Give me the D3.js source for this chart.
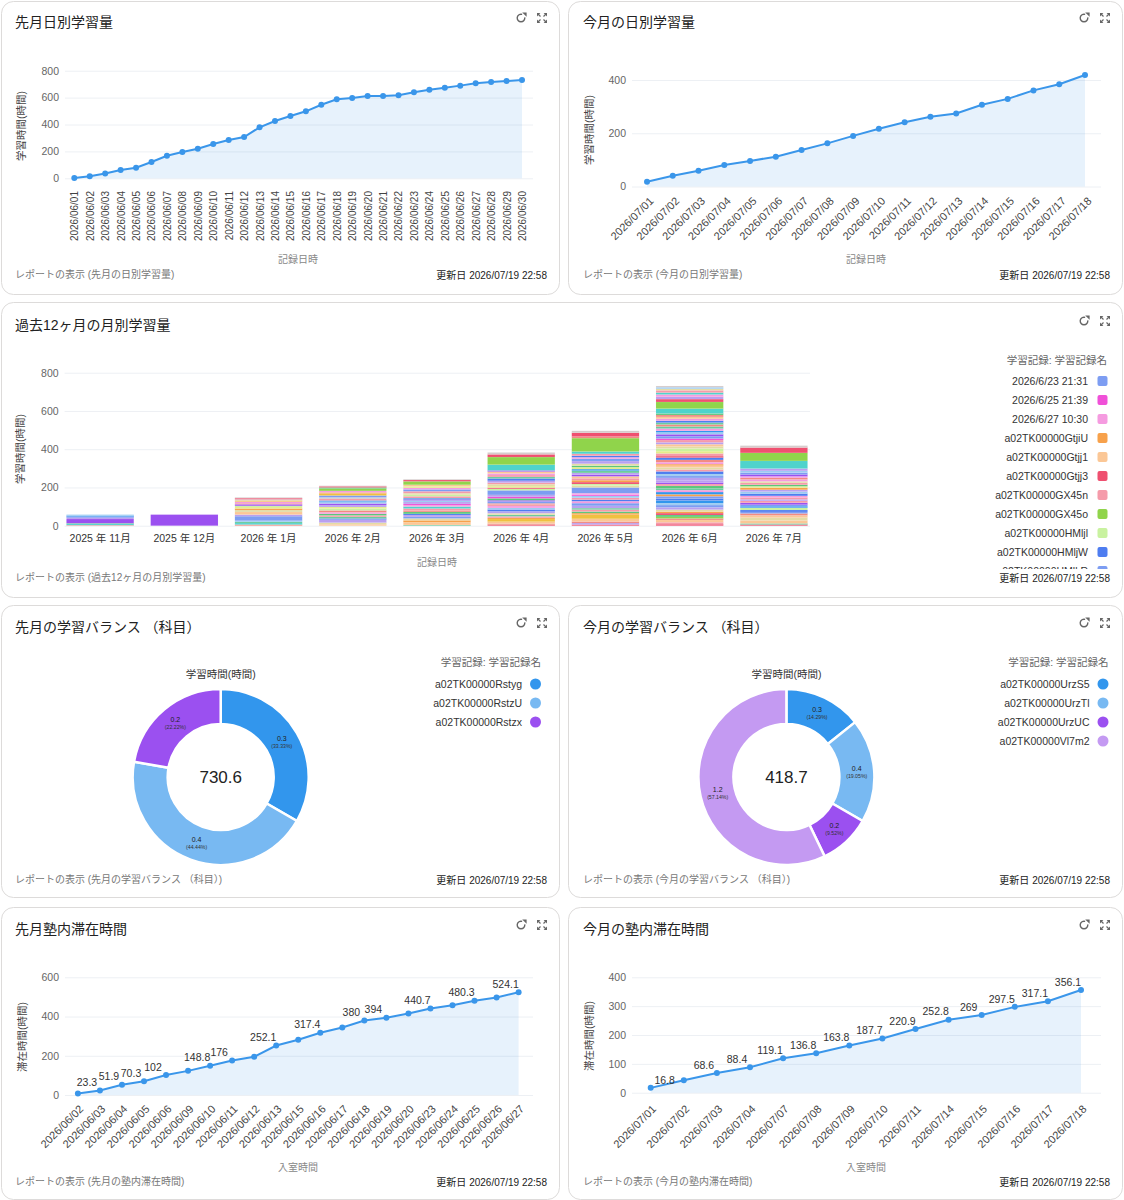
<!DOCTYPE html>
<html>
<head>
<meta charset="utf-8">
<script src="https://cdn.jsdelivr.net/npm/d3@7"></script>
<style>
  body { margin: 0; background: #fff; }
  svg text { font-family: "Liberation Sans", Arial, "Noto Sans CJK JP", sans-serif; }
</style>
</head>
<body>
<svg id="dash" width="1124" height="1200"></svg>
<script>
var FONT = '"Liberation Sans", Arial, "Noto Sans CJK JP", sans-serif';
var UPDATED = '更新日 2026/07/19 22:58';

// --- 先月日別学習量 ---
var lastMonthDates = ['2026/06/01','2026/06/02','2026/06/03','2026/06/04','2026/06/05','2026/06/06','2026/06/07','2026/06/08','2026/06/09','2026/06/10',
  '2026/06/11','2026/06/12','2026/06/13','2026/06/14','2026/06/15','2026/06/16','2026/06/17','2026/06/18','2026/06/19','2026/06/20',
  '2026/06/21','2026/06/22','2026/06/23','2026/06/24','2026/06/25','2026/06/26','2026/06/27','2026/06/28','2026/06/29','2026/06/30'];
var lastMonthStudy = [1.5, 15, 35, 62, 79, 121, 168, 196, 220, 255, 285, 307, 379, 426, 463, 498, 547, 587, 597, 612,
  612, 617, 639, 659, 674, 689, 706, 716, 723, 730.6];

// --- 今月の日別学習量 ---
var thisMonthDates = ['2026/07/01','2026/07/02','2026/07/03','2026/07/04','2026/07/05','2026/07/06','2026/07/07','2026/07/08','2026/07/09',
  '2026/07/10','2026/07/11','2026/07/12','2026/07/13','2026/07/14','2026/07/15','2026/07/16','2026/07/17','2026/07/18'];
var thisMonthStudy = [17.5, 40, 59, 81, 96, 112, 137, 162, 190, 217, 241, 262, 274, 307, 329, 361, 384, 418.7];

// --- 過去12ヶ月の月別学習量 ---
var monthLabels = ['2025 年 11月','2025 年 12月','2026 年 1月','2026 年 2月','2026 年 3月','2026 年 4月','2026 年 5月','2026 年 6月','2026 年 7月'];
var recordColors = ['#7d9df2','#f050d8','#f59be0','#f7a14b','#fbc796','#ef5070','#f59baa','#90d44b','#c9f2a0','#4e7df0',
  '#4fd3cc','#9b50f0','#b9a0f0','#3296ed','#f0c040','#e3dca5','#d6cccc','#6ccb9e','#f28b82','#9ccbf2','#5cc77a','#e4ec8a'];
// [record index, hours] from bottom to top
var segNov = [[18,3],[10,6],[17,4],[11,22],[12,8],[9,5],[13,5],[19,5]];
var segDec = [[11,58]];
var segJan = [[18,6],[10,8],[17,6],[19,6],[0,24],[12,8],[4,14],[15,10],[3,8],[21,8],[8,6],[11,8],[6,6],[2,8],[14,6],[16,6],[5,6],[16,4]];
var segFeb = [[4,8],[15,8],[12,16],[9,6],[17,8],[6,8],[20,8],[2,8],[18,10],[8,10],[21,8],[12,10],[11,8],[19,10],[13,6],[6,8],[16,8],
  [0,10],[14,10],[3,6],[2,8],[7,12],[20,6],[5,6],[16,3]];
var segMar = [[17,4],[4,14],[3,10],[15,10],[0,8],[12,10],[9,6],[20,10],[18,8],[6,10],[10,10],[2,8],[1,6],[12,10],[19,8],[11,6],[13,6],
  [6,10],[8,8],[15,8],[6,10],[0,10],[2,8],[21,8],[4,8],[7,18],[5,7],[16,4]];
var segApr = [[5,5],[18,6],[4,10],[14,14],[3,6],[6,8],[17,8],[15,8],[12,10],[9,10],[19,8],[2,10],[6,8],[18,6],[0,10],[11,6],[20,10],
  [1,8],[12,10],[0,24],[8,8],[5,6],[21,8],[15,10],[6,8],[12,10],[9,12],[17,8],[6,10],[2,8],[4,10],[11,6],[10,30],[7,40],[5,14],[16,10]];
var segMay = [[5,6],[12,8],[18,8],[4,14],[14,22],[3,8],[20,8],[6,10],[17,8],[12,12],[0,14],[2,10],[9,8],[6,10],[19,10],[1,6],[2,8],
  [0,30],[15,10],[8,8],[5,10],[3,10],[6,10],[4,10],[11,8],[12,10],[17,12],[13,8],[21,10],[20,8],[15,10],[12,14],[0,12],[2,8],[9,8],
  [6,10],[10,12],[7,70],[18,8],[5,20],[16,10]];
var segJun = [[5,8],[6,10],[4,12],[18,8],[7,8],[20,10],[5,10],[3,8],[15,10],[12,12],[0,12],[19,10],[13,14],[9,10],[0,12],[3,10],
  [13,12],[2,10],[17,10],[20,12],[6,10],[11,8],[12,12],[12,12],[0,10],[19,10],[9,14],[6,10],[15,10],[4,10],[3,8],[2,10],[18,12],
  [9,12],[5,8],[6,14],[21,12],[8,14],[15,10],[4,12],[12,10],[6,12],[1,8],[0,12],[11,10],[19,10],[13,8],[2,12],[17,11],[18,10],
  [17,10],[9,10],[2,10],[4,10],[18,10],[20,8],[10,25],[7,35],[5,15],[12,12],[2,12],[10,10],[6,12],[15,8],[19,8],[16,6.6]];
var segJul = [[5,6],[17,6],[4,16],[15,14],[4,12],[18,10],[0,8],[9,10],[8,12],[13,8],[0,8],[11,10],[6,10],[12,8],[6,10],[2,8],[9,12],
  [19,10],[12,10],[3,10],[21,8],[20,8],[6,10],[15,8],[2,10],[18,8],[2,8],[11,10],[0,10],[19,8.7],[12,12],[10,40],[7,42],[5,28],[16,10]];
var monthSegments = [segNov, segDec, segJan, segFeb, segMar, segApr, segMay, segJun, segJul];
var recordLegendNames = ['2026/6/23 21:31','2026/6/25 21:39','2026/6/27 10:30','a02TK00000GtjiU','a02TK00000Gtjj1','a02TK00000Gtjj3',
  'a02TK00000GX45n','a02TK00000GX45o','a02TK00000HMljl','a02TK00000HMljW','a02TK00000HMlkR'];
var recordLegendColors = [0, 1, 2, 3, 4, 5, 6, 7, 8, 9, 0];

// --- 学習バランス ---
var lastBalanceNames = ['a02TK00000Rstyg','a02TK00000RstzU','a02TK00000Rstzx'];
var lastBalanceValues = [0.3, 0.4, 0.2];
var lastBalanceTotal = 730.6;
var thisBalanceNames = ['a02TK00000UrzS5','a02TK00000UrzTl','a02TK00000UrzUC','a02TK00000Vl7m2'];
var thisBalanceValues = [0.3, 0.4, 0.2, 1.2];
var thisBalanceTotal = 418.7;
var balanceColors = ['#3296ed','#78b9f2','#9b50f0','#c49af2'];

// --- 塾内滞在時間 ---
var stayLastDates = ['2026/06/02','2026/06/03','2026/06/04','2026/06/05','2026/06/06','2026/06/09','2026/06/10','2026/06/11','2026/06/12',
  '2026/06/13','2026/06/15','2026/06/16','2026/06/17','2026/06/18','2026/06/19','2026/06/20','2026/06/23','2026/06/24','2026/06/25',
  '2026/06/26','2026/06/27'];
var stayLastHours = [8, 23.3, 51.9, 70.3, 102, 123, 148.8, 176, 195, 252.1, 282, 317.4, 344, 380, 394, 415, 440.7, 458, 480.3, 497, 524.1];
var stayLastLabeled = ['2026/06/03','2026/06/04','2026/06/05','2026/06/06','2026/06/10','2026/06/11','2026/06/13','2026/06/16',
  '2026/06/18','2026/06/19','2026/06/23','2026/06/25','2026/06/27'];
var stayThisDates = ['2026/07/01','2026/07/02','2026/07/03','2026/07/04','2026/07/07','2026/07/08','2026/07/09','2026/07/10',
  '2026/07/11','2026/07/14','2026/07/15','2026/07/16','2026/07/17','2026/07/18'];
var stayThisHours = [16.8, 43, 68.6, 88.4, 119.1, 136.8, 163.8, 187.7, 220.9, 252.8, 269, 297.5, 317.1, 356.1];
var stayThisLabeled = ['2026/07/01','2026/07/03','2026/07/04','2026/07/07','2026/07/08','2026/07/09','2026/07/10','2026/07/11',
  '2026/07/14','2026/07/15','2026/07/16','2026/07/17','2026/07/18'];

var svg = d3.select('#dash');

function drawRefresh(g, x, y) {
  var arc = d3.arc().innerRadius(3.1).outerRadius(4.5).startAngle(Math.PI * 0.45).endAngle(Math.PI * 2.1);
  var ic = g.append('g').attr('transform', 'translate(' + x + ',' + y + ')').attr('fill', '#666');
  ic.append('path').attr('d', arc());
  ic.append('path').attr('d', 'M1.2,-5.6 L5.6,-5.6 L5.6,-1.2 Z');
}

function drawExpand(g, x, y) {
  var ic = g.append('g').attr('transform', 'translate(' + x + ',' + y + ')');
  ic.append('path').attr('fill', '#666')
    .attr('d', 'M-5,-5 L-1.6,-5 L-5,-1.6 Z M5,-5 L1.6,-5 L5,-1.6 Z M-5,5 L-1.6,5 L-5,1.6 Z M5,5 L1.6,5 L5,1.6 Z');
  ic.append('path').attr('stroke', '#666').attr('stroke-width', 1.2)
    .attr('d', 'M-4,-4 L-1.5,-1.5 M4,-4 L1.5,-1.5 M-4,4 L-1.5,1.5 M4,4 L1.5,1.5');
}

function drawCard(o) {
  var g = svg.append('g').attr('transform', 'translate(' + o.gx + ',' + o.gy + ')');
  g.append('rect').attr('x', o.rx + 0.5).attr('y', o.ry + 0.5).attr('width', o.rw).attr('height', o.rh)
    .attr('rx', 12).attr('fill', '#fff').attr('stroke', '#dddbda');
  var right = o.rx + o.rw;
  g.append('text').attr('x', o.tx).attr('y', o.ty).attr('dy', '0.35em')
    .attr('font-size', 14).attr('fill', '#222').text(o.title);
  drawRefresh(g, right - 38, o.ty - 4);
  drawExpand(g, right - 17, o.ty - 4);
  g.append('text').attr('x', o.tx).attr('y', o.fy).attr('dy', '0.35em')
    .attr('font-size', 10).attr('fill', '#777').text(o.footer);
  g.append('text').attr('x', right - 12).attr('y', o.fy + 1).attr('dy', '0.35em').attr('text-anchor', 'end')
    .attr('font-size', 10).attr('fill', '#222').text(UPDATED);
  return g;
}

function yAxisGrid(g, y, ticks, gx0, gx1) {
  var ax = g.append('g').attr('transform', 'translate(' + gx0 + ',0)')
    .call(d3.axisLeft(y).tickValues(ticks).tickSize(-(gx1 - gx0)).tickPadding(6));
  ax.attr('font-family', FONT);
  ax.select('.domain').remove();
  ax.selectAll('line').attr('stroke', '#edf0f4');
  ax.selectAll('text').attr('font-size', 10.5).attr('fill', '#666');
}

function sideTitle(g, text, x, y) {
  g.append('text').attr('transform', 'translate(' + x + ',' + y + ') rotate(-90)')
    .attr('text-anchor', 'middle').attr('dy', '0.35em').attr('font-size', 10.5).attr('fill', '#444').text(text);
}

function bottomTitle(g, text, x, y) {
  g.append('text').attr('x', x).attr('y', y).attr('dy', '0.35em').attr('text-anchor', 'middle')
    .attr('font-size', 10).attr('fill', '#888').text(text);
}

function drawLine(g, o) {
  var x = d3.scalePoint().domain(o.dates).range([o.px0, o.px1]);
  var y = d3.scaleLinear().domain([0, o.yMax]).range([o.py0, o.py1]);
  yAxisGrid(g, y, o.ticks, o.gx0, o.gx1);

  var pts = o.dates.map(function (d, i) { return { d: d, v: o.values[i] }; });
  var area = d3.area().x(function (p) { return x(p.d); }).y0(y(0)).y1(function (p) { return y(p.v); });
  var line = d3.line().x(function (p) { return x(p.d); }).y(function (p) { return y(p.v); });
  g.append('path').datum(pts).attr('d', area).attr('fill', '#3a96ea').attr('fill-opacity', 0.12);
  g.append('path').datum(pts).attr('d', line).attr('fill', 'none').attr('stroke', '#3a96ea').attr('stroke-width', 2);
  g.append('g').selectAll('circle').data(pts).join('circle')
    .attr('cx', function (p) { return x(p.d); }).attr('cy', function (p) { return y(p.v); })
    .attr('r', 3).attr('fill', '#3a96ea');

  if (o.labeled) {
    g.append('g').selectAll('text').data(pts.filter(function (p) { return o.labeled.indexOf(p.d) >= 0; })).join('text')
      .attr('x', function (p) { var px = x(p.d); return (px - 25 < o.gx0) ? px + 14 : px - 13; })
      .attr('y', function (p) { return y(p.v) - 8; })
      .attr('dy', '0.35em').attr('text-anchor', 'middle').attr('font-size', 10.5).attr('fill', '#333')
      .text(function (p) { return p.v; });
  }

  var xa = g.append('g').attr('transform', 'translate(0,' + o.xLabelY + ')')
    .call(d3.axisBottom(x).tickSize(0).tickPadding(0));
  xa.attr('font-family', FONT);
  xa.select('.domain').remove();
  xa.selectAll('text').attr('font-size', o.rot === -90 ? 10 : 11).attr('fill', '#444').attr('text-anchor', 'end')
    .attr('x', 0).attr('y', 0).attr('dy', '0.35em')
    .attr('transform', 'translate(' + o.xLabelDx + ',0) rotate(' + o.rot + ')');

  sideTitle(g, o.yTitle, o.yTitleX, o.yTitleY);
  bottomTitle(g, o.xTitle, o.xTitleX, o.xTitleY);
}

function drawDonut(g, o) {
  var items = o.names.map(function (n, i) { return { name: n, v: o.values[i], c: balanceColors[i] }; });
  var sum = d3.sum(o.values);
  var pie = d3.pie().sort(null).value(function (d) { return d.v; });
  var arc = d3.arc().innerRadius(53).outerRadius(88);
  var lab = d3.arc().innerRadius(70.5).outerRadius(70.5);
  var dg = g.append('g').attr('transform', 'translate(' + o.cx + ',' + o.cy + ')');
  var arcs = pie(items);
  dg.selectAll('path').data(arcs).join('path').attr('d', arc)
    .attr('fill', function (a) { return a.data.c; }).attr('stroke', '#fff').attr('stroke-width', 2.5);
  dg.selectAll('text.val').data(arcs).join('text').attr('class', 'val')
    .attr('transform', function (a) { var c = lab.centroid(a); return 'translate(' + c[0] + ',' + (c[1] - 3.5) + ')'; })
    .attr('text-anchor', 'middle').attr('dy', '0.35em').attr('font-size', 7).attr('fill', '#222')
    .text(function (a) { return a.data.v; });
  dg.selectAll('text.pct').data(arcs).join('text').attr('class', 'pct')
    .attr('transform', function (a) { var c = lab.centroid(a); return 'translate(' + c[0] + ',' + (c[1] + 4) + ')'; })
    .attr('text-anchor', 'middle').attr('dy', '0.35em').attr('font-size', 5.2).attr('fill', '#333')
    .text(function (a) { return '(' + d3.format('.2f')(a.data.v / sum * 100) + '%)'; });
  dg.append('text').attr('text-anchor', 'middle').attr('dy', '0.35em').attr('font-size', 17).attr('fill', '#222')
    .text(o.total);
  g.append('text').attr('x', o.cx).attr('y', 71).attr('dy', '0.35em').attr('text-anchor', 'middle')
    .attr('font-size', 10.5).attr('fill', '#333').text('学習時間(時間)');

  g.append('text').attr('x', o.legendRight).attr('y', 59).attr('dy', '0.35em').attr('text-anchor', 'end')
    .attr('font-size', 10.5).attr('fill', '#666').text('学習記録: 学習記録名');
  var lg = g.append('g').selectAll('g').data(items).join('g')
    .attr('transform', function (d, i) { return 'translate(0,' + (81 + i * 19) + ')'; });
  lg.append('circle').attr('cx', o.legendRight - 5.5).attr('r', 5.5).attr('fill', function (d) { return d.c; });
  lg.append('text').attr('x', o.legendRight - 19).attr('dy', '0.35em').attr('text-anchor', 'end')
    .attr('font-size', 10.5).attr('fill', '#333').text(function (d) { return d.name; });
}

// ---------- card 1 ----------
var c1 = drawCard({ gx: 0, gy: 0, rx: 1, ry: 1, rw: 558, rh: 293, tx: 15, ty: 22, fy: 274,
  title: '先月日別学習量', footer: 'レポートの表示 (先月の日別学習量)' });
drawLine(c1, { dates: lastMonthDates, values: lastMonthStudy, yMax: 800, ticks: [0, 200, 400, 600, 800],
  px0: 74.3, px1: 522, py0: 178.3, py1: 70.7, gx0: 65, gx1: 533, rot: -90, xLabelY: 191, xLabelDx: 0,
  yTitle: '学習時間(時間)', yTitleX: 21.5, yTitleY: 126, xTitle: '記録日時', xTitleX: 298, xTitleY: 259 });

// ---------- card 2 ----------
var c2 = drawCard({ gx: 565, gy: 0, rx: 3, ry: 1, rw: 554, rh: 293, tx: 18, ty: 22, fy: 274,
  title: '今月の日別学習量', footer: 'レポートの表示 (今月の日別学習量)' });
drawLine(c2, { dates: thisMonthDates, values: thisMonthStudy, yMax: 400, ticks: [0, 200, 400],
  px0: 82, px1: 520, py0: 186.5, py1: 80, gx0: 67, gx1: 536, rot: -45, xLabelY: 199, xLabelDx: 4,
  yTitle: '学習時間(時間)', yTitleX: 24, yTitleY: 130, xTitle: '記録日時', xTitleX: 301, xTitleY: 259 });

// ---------- card 3 ----------
var c3 = drawCard({ gx: 0, gy: 300, rx: 1, ry: 2, rw: 1121, rh: 295, tx: 15, ty: 25, fy: 277,
  title: '過去12ヶ月の月別学習量', footer: 'レポートの表示 (過去12ヶ月の月別学習量)' });
(function () {
  var g = c3;
  var xb = d3.scaleBand().domain(monthLabels).range([58, 816]).paddingInner(0.2).paddingOuter(0.1);
  var yb = d3.scaleLinear().domain([0, 800]).range([225.7, 72.7]);
  yAxisGrid(g, yb, [0, 200, 400, 600, 800], 64.6, 810);
  monthSegments.forEach(function (segs, i) {
    var acc = 0;
    var rows = segs.map(function (s) { var r = { c: s[0], y0: acc, y1: acc + s[1] }; acc += s[1]; return r; });
    g.append('g').selectAll('rect').data(rows).join('rect')
      .attr('x', xb(monthLabels[i])).attr('width', xb.bandwidth())
      .attr('y', function (r) { return yb(r.y1); })
      .attr('height', function (r) { return yb(r.y0) - yb(r.y1); })
      .attr('fill', function (r) { return recordColors[r.c]; })
      .attr('stroke', '#fff').attr('stroke-opacity', 0.25).attr('stroke-width', 0.3);
  });
  var xa = g.append('g').attr('transform', 'translate(0,238)').call(d3.axisBottom(xb).tickSize(0).tickPadding(0));
  xa.attr('font-family', FONT);
  xa.select('.domain').remove();
  xa.selectAll('text').attr('y', 0).attr('dy', '0.35em').attr('font-size', 10.5).attr('fill', '#333');
  sideTitle(g, '学習時間(時間)', 20, 149);
  bottomTitle(g, '記録日時', 437, 262);

  g.append('defs').append('clipPath').attr('id', 'legendClip')
    .append('rect').attr('x', 900).attr('y', 40).attr('width', 220).attr('height', 229);
  g.append('text').attr('x', 1107).attr('y', 60).attr('dy', '0.35em').attr('text-anchor', 'end')
    .attr('font-size', 10.5).attr('fill', '#666').text('学習記録: 学習記録名');
  var lg = g.append('g').attr('clip-path', 'url(#legendClip)').selectAll('g').data(recordLegendNames).join('g')
    .attr('transform', function (d, i) { return 'translate(0,' + (81 + i * 19) + ')'; });
  lg.append('rect').attr('x', 1097.5).attr('y', -5).attr('width', 10).attr('height', 10).attr('rx', 2)
    .attr('fill', function (d, i) { return recordColors[recordLegendColors[i]]; });
  lg.append('text').attr('x', 1088).attr('dy', '0.35em').attr('text-anchor', 'end')
    .attr('font-size', 10.5).attr('fill', '#333').text(function (d) { return d; });
})();

// ---------- card 4 / 5 ----------
var c4 = drawCard({ gx: 0, gy: 603, rx: 1, ry: 2, rw: 558, rh: 292, tx: 15, ty: 24, fy: 276,
  title: '先月の学習バランス （科目）', footer: 'レポートの表示 (先月の学習バランス （科目）)' });
drawDonut(c4, { names: lastBalanceNames, values: lastBalanceValues, total: lastBalanceTotal, cx: 220.7, cy: 174, legendRight: 541 });
var c5 = drawCard({ gx: 565, gy: 603, rx: 3, ry: 2, rw: 554, rh: 292, tx: 18, ty: 24, fy: 276,
  title: '今月の学習バランス （科目）', footer: 'レポートの表示 (今月の学習バランス （科目）)' });
drawDonut(c5, { names: thisBalanceNames, values: thisBalanceValues, total: thisBalanceTotal, cx: 221.4, cy: 174, legendRight: 543.5 });

// ---------- card 6 / 7 ----------
var c6 = drawCard({ gx: 0, gy: 905, rx: 1, ry: 2, rw: 558, rh: 292, tx: 15, ty: 24, fy: 276,
  title: '先月塾内滞在時間', footer: 'レポートの表示 (先月の塾内滞在時間)' });
drawLine(c6, { dates: stayLastDates, values: stayLastHours, yMax: 600, ticks: [0, 200, 400, 600], labeled: stayLastLabeled,
  px0: 77.9, px1: 518.6, py0: 190, py1: 72.3, gx0: 65, gx1: 533, rot: -45, xLabelY: 202, xLabelDx: 3,
  yTitle: '滞在時間(時間)', yTitleX: 22, yTitleY: 132, xTitle: '入室時間', xTitleX: 298, xTitleY: 262 });
var c7 = drawCard({ gx: 565, gy: 905, rx: 3, ry: 2, rw: 554, rh: 292, tx: 18, ty: 24, fy: 276,
  title: '今月の塾内滞在時間', footer: 'レポートの表示 (今月の塾内滞在時間)' });
drawLine(c7, { dates: stayThisDates, values: stayThisHours, yMax: 400, ticks: [0, 100, 200, 300, 400], labeled: stayThisLabeled,
  px0: 85.7, px1: 516, py0: 187.7, py1: 72.3, gx0: 67, gx1: 536, rot: -45, xLabelY: 202, xLabelDx: 3,
  yTitle: '滞在時間(時間)', yTitleX: 24, yTitleY: 131, xTitle: '入室時間', xTitleX: 301, xTitleY: 262 });
</script>
</body>
</html>
